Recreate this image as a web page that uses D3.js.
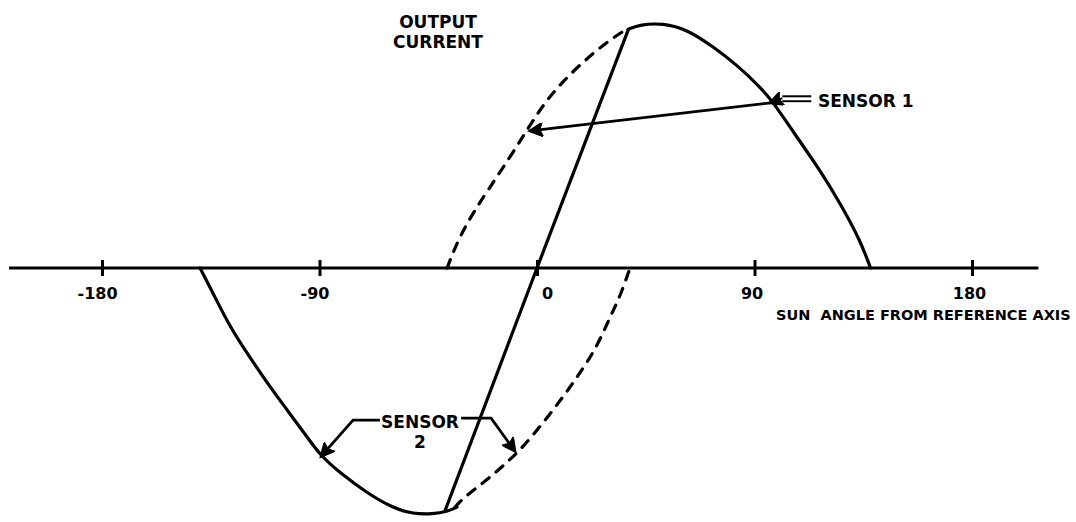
<!DOCTYPE html>
<html>
<head>
<meta charset="utf-8">
<script src="https://cdn.jsdelivr.net/npm/d3@7"></script>
<style>
  body { margin: 0; background: #fff; }
  text { font-family: "DejaVu Sans", sans-serif; font-weight: bold; fill: #000; }
</style>
</head>
<body>
<svg id="chart" width="1076" height="522"></svg>
<script>
// angle ticks on the horizontal axis
var angleTicks = [-180, -90, 0, 90, 180]
var tickLabels = ["-180", "-90", "0", "90", "180"]
var axisExtent = [-218.5, 207.5]

// [sun angle (deg), output current (normalised)]
var sensor1Solid = [[37.7, 0.97], [42.6, 0.99], [52.1, 0.995], [62.1, 0.97], [72.8, 0.90],
  [82.8, 0.825], [92.3, 0.736], [97.7, 0.675], [105.9, 0.555], [117.1, 0.398],
  [125.4, 0.264], [133.7, 0.114], [138.0, 0]]
var sensor1Dashed = [[-37.2, 0], [-32.7, 0.114], [-26.5, 0.224], [-19.4, 0.329], [-11.2, 0.451],
  [-4.1, 0.561], [2.5, 0.663], [9.5, 0.746], [19.0, 0.838], [29.0, 0.919], [36.4, 0.967]]
var sensor2Solid = [[-139.4, 0], [-134.1, -0.102], [-127.0, -0.240], [-120.0, -0.346],
  [-111.7, -0.467], [-103.4, -0.577], [-95.1, -0.687], [-89.8, -0.76], [-81.5, -0.833],
  [-70.3, -0.915], [-59.6, -0.976], [-51.3, -1.0], [-43.0, -1.0], [-37.2, -0.99], [-33.1, -0.972]]
var sensor2Dashed = [[-33.9, -0.972], [-30.6, -0.935], [-20.7, -0.862], [-12.4, -0.790],
  [-5.8, -0.728], [2.5, -0.630], [10.8, -0.524], [17.8, -0.427], [24.8, -0.321],
  [30.2, -0.199], [34.3, -0.118], [38.5, 0]]
var crossover = [[-38.1, -0.988], [0, 0], [37.7, 0.967]]

// annotation leaders, same units
var sensor1Leader = [[96.4, 0.671], [-2.9, 0.557]]
var sensor1Tag = [[113.5, 0.69], [101.5, 0.69]]
var sensor2LeftLeader = [[-65.0, -0.618], [-76.1, -0.618], [-89.3, -0.765]]
var sensor2RightLeader = [[-31.4, -0.61], [-19.0, -0.61], [-9.1, -0.745]]

var width = 1076, height = 522
var svg = d3.select("#chart")

var xScale = d3.scaleLinear().domain([-180, 180]).range([102, 972])
var yScale = d3.scaleLinear().domain([-1, 1]).range([514, 22])

var defs = svg.append("defs")
defs.append("marker")
  .attr("id", "head")
  .attr("viewBox", "0 0 10 10")
  .attr("refX", 9).attr("refY", 5)
  .attr("markerWidth", 17).attr("markerHeight", 14)
  .attr("markerUnits", "userSpaceOnUse")
  .attr("orient", "auto")
  .append("path")
  .attr("d", "M0,0 L10,5 L0,10 L2,5 Z")
  .attr("fill", "#000")
  .attr("stroke", "#000")
  .attr("stroke-width", 1)

var line = d3.line()
  .x(d => xScale(d[0]))
  .y(d => yScale(d[1]))
  .curve(d3.curveBasis)

var straight = d3.line()
  .x(d => xScale(d[0]))
  .y(d => yScale(d[1]))

// horizontal axis line
svg.append("line")
  .attr("x1", xScale(axisExtent[0]))
  .attr("x2", xScale(axisExtent[1]))
  .attr("y1", yScale(0)).attr("y2", yScale(0))
  .attr("stroke", "#000").attr("stroke-width", 3)

var xAxisGen = d3.axisBottom(xScale)
  .tickValues(angleTicks)
  .tickFormat((d, i) => tickLabels[i])
  .tickSize(8)
  .tickPadding(12)
var xAxis = svg.append("g")
  .attr("transform", `translate(0,${yScale(0)})`)
  .call(xAxisGen)
xAxis.select(".domain").remove()
xAxis.selectAll(".tick line")
  .attr("y1", -8)
  .attr("stroke", "#000")
  .attr("stroke-width", 3)
xAxis.selectAll(".tick text")
  .attr("font-family", "DejaVu Sans")
  .attr("font-weight", "bold")
  .attr("font-size", 16)
  .attr("dx", d => d === 0 ? 10 : (d < 0 ? -5 : -3))

// curves
var curves = svg.append("g").attr("fill", "none").attr("stroke", "#000")
  .attr("stroke-width", 3.2).attr("stroke-linejoin", "round").attr("stroke-linecap", "round")
curves.append("path").attr("d", line(sensor2Solid))
curves.append("path").attr("d", straight(crossover))
curves.append("path").attr("d", line(sensor1Solid))
curves.append("path").attr("d", line(sensor1Dashed)).attr("stroke-dasharray", "9,9")
curves.append("path").attr("d", line(sensor2Dashed)).attr("stroke-dasharray", "9,9")

// annotations
var notes = svg.append("g").attr("fill", "none").attr("stroke", "#000")
notes.append("path").attr("d", straight(sensor1Leader))
  .attr("stroke-width", 2.8).attr("marker-end", "url(#head)")
notes.append("path").attr("d", straight(sensor1Tag.map(d => [d[0], d[1] + 0.008])))
  .attr("stroke-width", 2)
notes.append("path").attr("d", straight(sensor1Tag.map(d => [d[0], d[1] - 0.012])))
  .attr("stroke-width", 2)
notes.append("path").attr("d", straight([sensor1Tag[1], sensor1Leader[0]]))
  .attr("stroke-width", 2).attr("marker-end", "url(#head)")
notes.append("path").attr("d", straight(sensor2LeftLeader))
  .attr("stroke-width", 2.8).attr("marker-end", "url(#head)")
notes.append("path").attr("d", straight(sensor2RightLeader))
  .attr("stroke-width", 2.8).attr("marker-end", "url(#head)")

// labels
svg.append("text").attr("x", 438).attr("y", 28).attr("text-anchor", "middle")
  .attr("font-size", 17).text("OUTPUT")
svg.append("text").attr("x", 438).attr("y", 48).attr("text-anchor", "middle")
  .attr("font-size", 17).text("CURRENT")
svg.append("text").attr("x", 818).attr("y", 107).attr("font-size", 17).text("SENSOR 1")
svg.append("text").attr("x", 420).attr("y", 428).attr("text-anchor", "middle")
  .attr("font-size", 17).text("SENSOR")
svg.append("text").attr("x", 420).attr("y", 448).attr("text-anchor", "middle")
  .attr("font-size", 17).text("2")
svg.append("text").attr("x", 776).attr("y", 320).attr("font-size", 14.5)
  .text("SUN  ANGLE FROM REFERENCE AXIS").style("white-space", "pre")
</script>
</body>
</html>
